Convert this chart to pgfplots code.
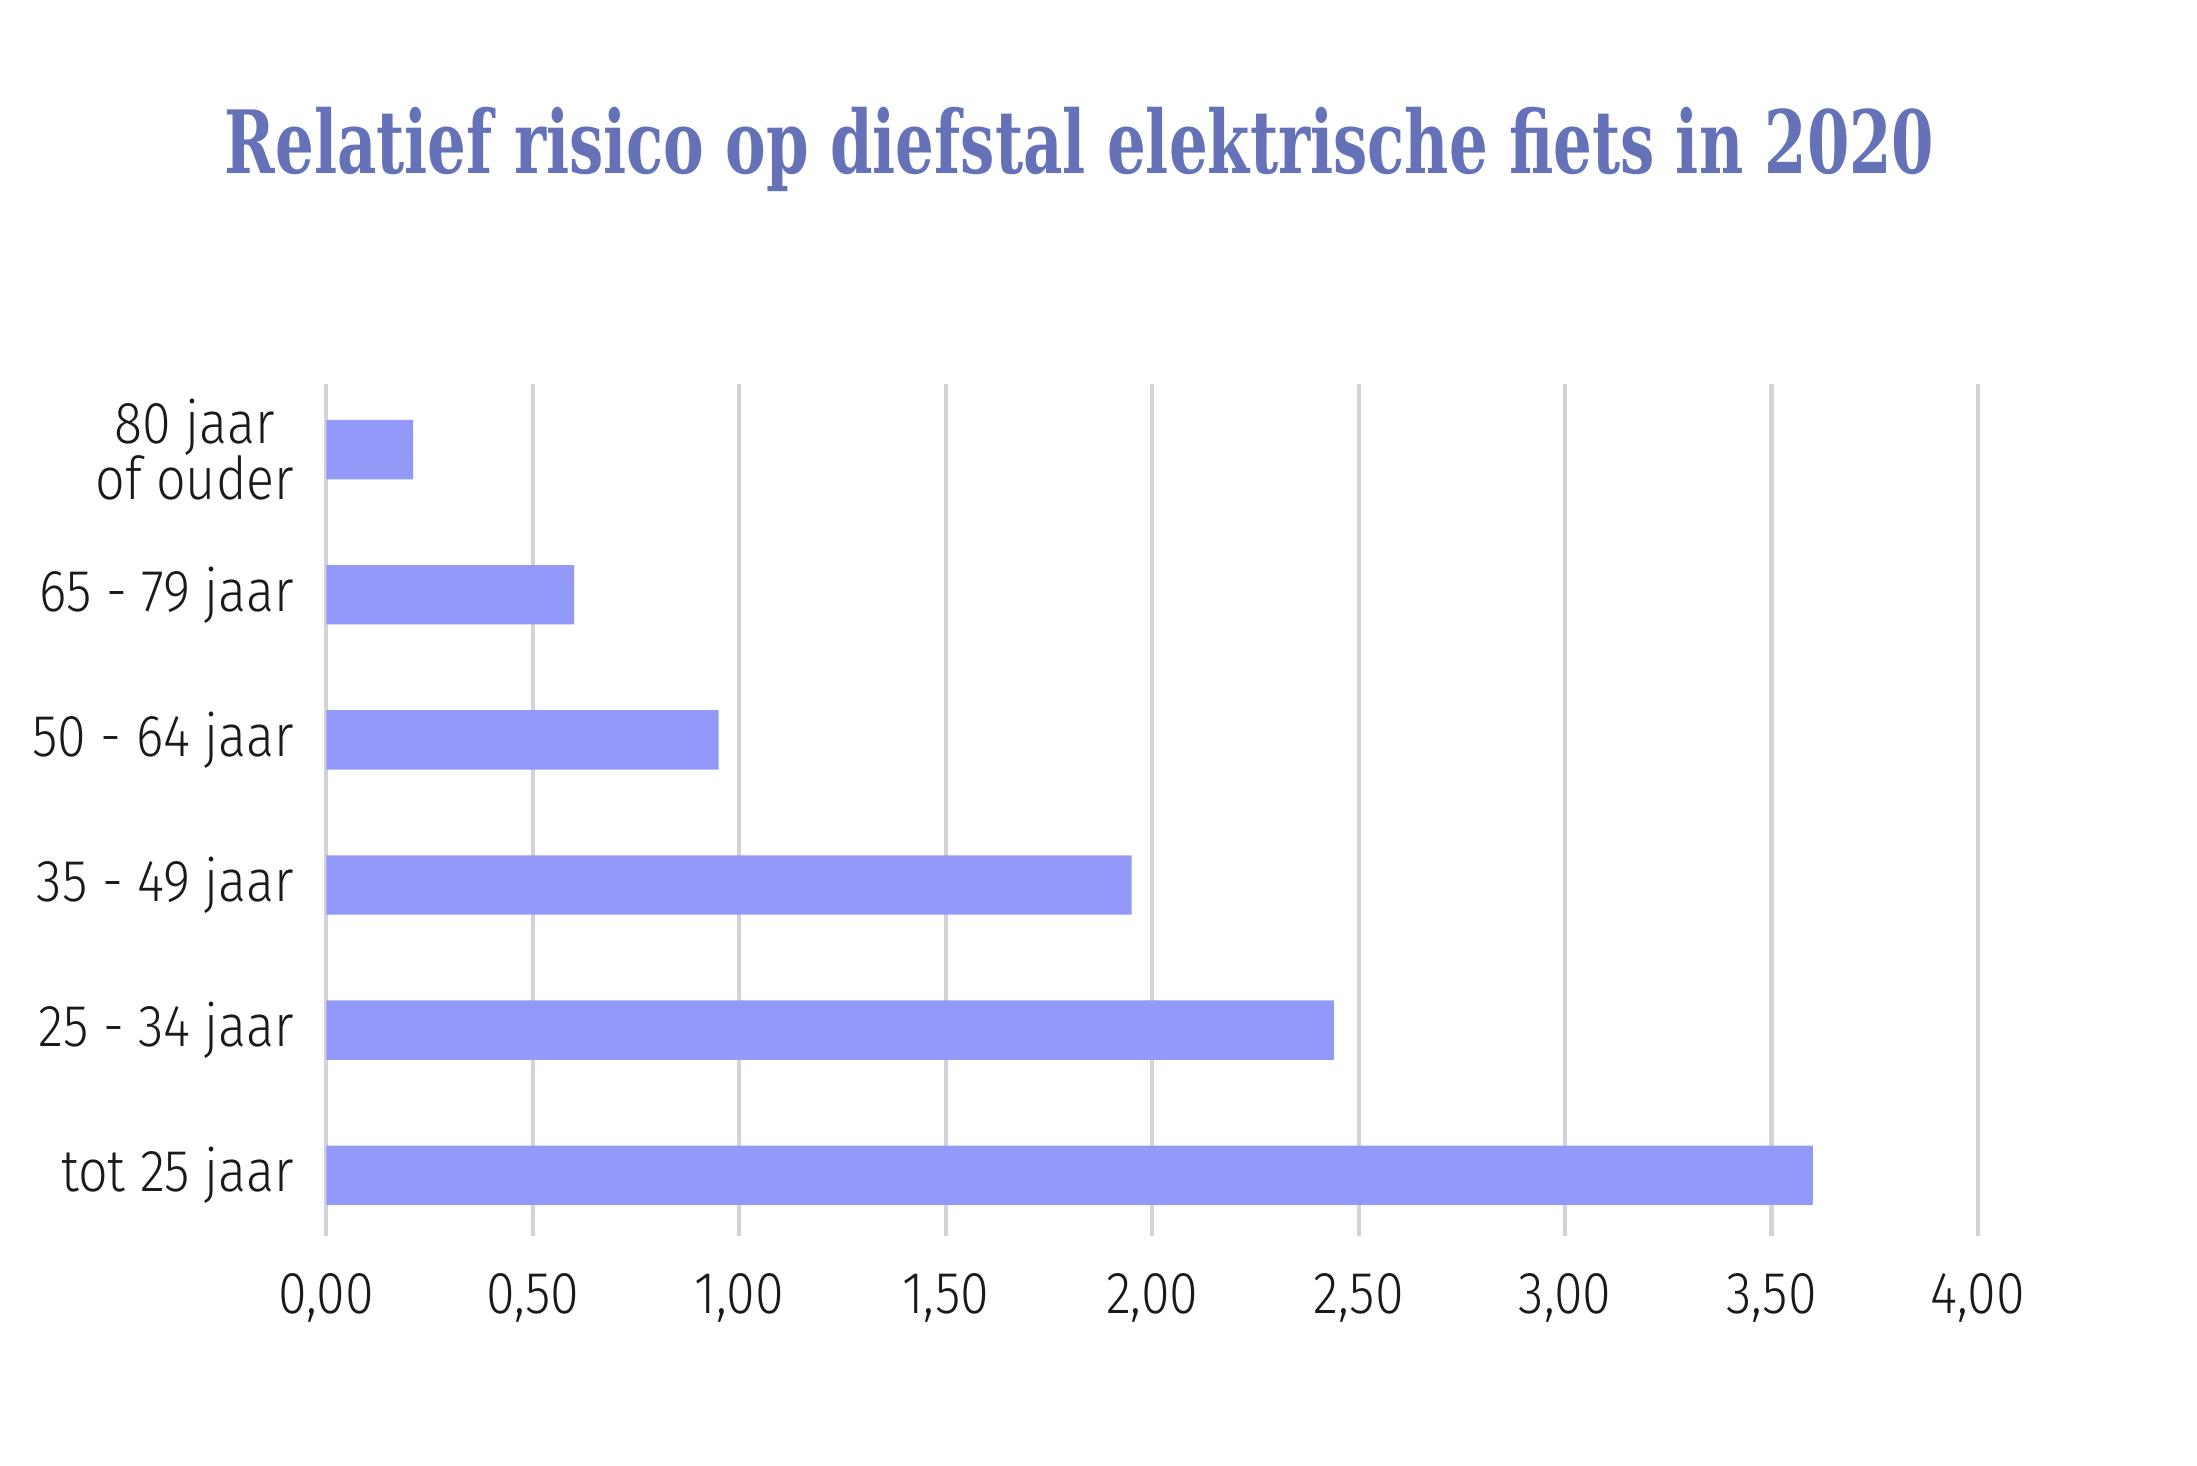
\documentclass[border=0pt]{standalone}
\usepackage{fontspec}
\setmainfont{Fira Sans Light}[FakeStretch=0.88]
\newfontfamily\titlefont{DejaVu Serif}
\usepackage{pgfplots}
\pgfplotsset{compat=1.18}
\definecolor{barc}{HTML}{9399F9}
\definecolor{titlec}{HTML}{6572B8}
\definecolor{gridc}{HTML}{D2D2D8}
\definecolor{textc}{HTML}{1A1A1A}
\begin{document}
\begin{tikzpicture}
\path[use as bounding box] (-115.5bp,-81bp) rectangle (662bp,437.5bp);
\begin{axis}[
  at={(0,0)}, anchor=south west,
  scale only axis, width=584.5bp, height=301.5bp,
  xbar, bar width=21bp,
  xmin=0, xmax=4, ymin=-0.42, ymax=5.45,
  axis line style={draw=none},
  tick style={draw=none},
  major tick length=0pt,
  xmajorgrids,
  grid style={gridc, line width=1.5bp},
  xtick={0,0.5,1,1.5,2,2.5,3,3.5,4},
  xticklabels={{0,00},{0,50},{1,00},{1,50},{2,00},{2,50},{3,00},{3,50},{4,00}},
  ytick={0,1,2,3,4,5},
  yticklabels={tot 25 jaar, 25 - 34 jaar, 35 - 49 jaar, 50 - 64 jaar, 65 - 79 jaar, {80 jaar\\of ouder}},
  xticklabel style={font=\fontsize{21}{25}\selectfont, text=textc, yshift=-9.5bp},
  yticklabel style={font=\fontsize{21}{20}\selectfont, text=textc, align=center, xshift=-8bp},
]
\addplot[fill=barc, draw=none] coordinates {(3.60,0) (2.44,1) (1.95,2) (0.95,3) (0.60,4) (0.21,5)};
\end{axis}
\node[anchor=base, text=titlec, font=\titlefont\bfseries\fontsize{31}{36}\selectfont] at (266.5bp,376bp) {\resizebox{605bp}{\height}{Relatief risico op diefstal elektrische fiets in 2020}};
\end{tikzpicture}
\end{document}
